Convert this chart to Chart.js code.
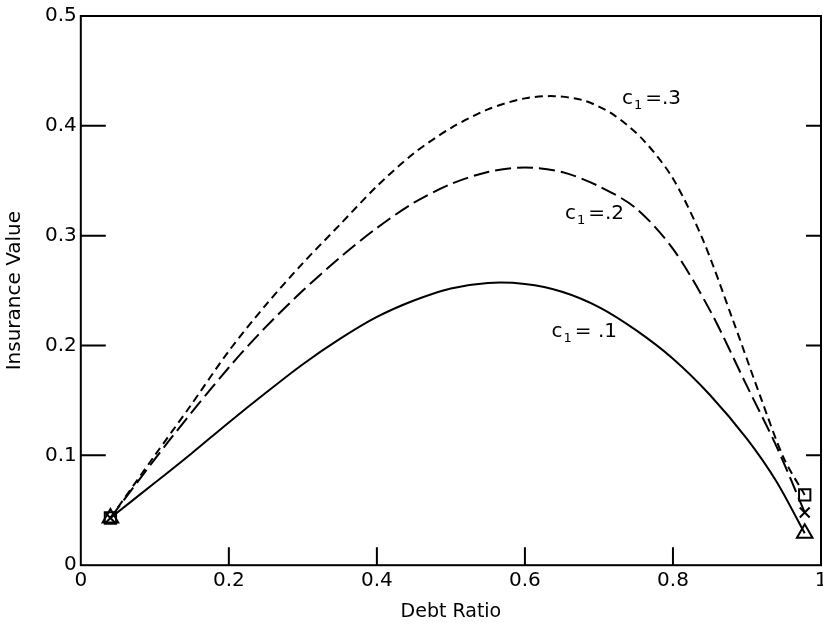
<!DOCTYPE html>
<html>
<head>
<meta charset="utf-8">
<script src="https://cdn.jsdelivr.net/npm/chart.js@4/dist/chart.umd.min.js"></script>
<style>
  html, body { margin: 0; padding: 0; background: #fff; overflow: hidden; }
  #wrap { width: 832px; height: 626px; }
</style>
</head>
<body>
<div id="wrap"><canvas id="c"></canvas></div>
<script>
// curves (c1 = .1, .2, .3)
const x1 = [0.04, 0.1, 0.15, 0.2, 0.25, 0.3, 0.35, 0.4, 0.45, 0.5, 0.55, 0.6, 0.65, 0.7, 0.75, 0.8, 0.85, 0.9, 0.94, 0.978];
const y1 = [0.043, 0.075, 0.102, 0.13, 0.157, 0.183, 0.206, 0.226, 0.241, 0.252, 0.257, 0.256, 0.249, 0.235, 0.214, 0.188, 0.155, 0.115, 0.076, 0.029];

const x2 = [0.04, 0.12, 0.2, 0.25, 0.3, 0.35, 0.4, 0.45, 0.5, 0.55, 0.6, 0.65, 0.7, 0.75, 0.8, 0.85, 0.9, 0.94, 0.978];
const y2 = [0.043, 0.114, 0.18, 0.217, 0.25, 0.28, 0.307, 0.33, 0.347, 0.358, 0.362, 0.358, 0.345, 0.325, 0.288, 0.232, 0.163, 0.108, 0.048];

const x3 = [0.04, 0.1, 0.147, 0.2, 0.25, 0.3, 0.35, 0.4, 0.45, 0.5, 0.55, 0.6, 0.64, 0.68, 0.72, 0.76, 0.8, 0.84, 0.88, 0.92, 0.95, 0.978];
const y3 = [0.043, 0.10, 0.144, 0.195, 0.237, 0.275, 0.31, 0.345, 0.375, 0.398, 0.415, 0.425, 0.427, 0.423, 0.41, 0.387, 0.352, 0.297, 0.225, 0.15, 0.097, 0.064];

// curve labels: [x, y, value text]
const curveLabels = [
  [0.731, 0.42, '=.3'],
  [0.654, 0.315, '=.2'],
  [0.636, 0.208, '= .1']
];

const xTicks = [0, 0.2, 0.4, 0.6, 0.8, 1];
const yTicks = [0, 0.1, 0.2, 0.3, 0.4, 0.5];

const FONT = '"DejaVu Sans", sans-serif';

function pts(xs, ys) {
  return xs.map((x, i) => ({ x: x, y: ys[i] }));
}
function ends(xs, ys) {
  const n = xs.length - 1;
  return [{ x: xs[0], y: ys[0] }, { x: xs[n], y: ys[n] }];
}

function curve(xs, ys, dash) {
  return {
    data: pts(xs, ys),
    showLine: true,
    borderColor: '#000',
    borderWidth: 2,
    borderDash: dash,
    pointRadius: 0,
    tension: 0.3,
    fill: false
  };
}
function marker(xs, ys, style, r) {
  return {
    data: ends(xs, ys),
    showLine: false,
    pointStyle: style,
    pointRadius: r,
    pointBorderColor: '#000',
    pointBackgroundColor: 'rgba(255,255,255,0)',
    pointBorderWidth: 2
  };
}

// frame, inward ticks, curve labels
const decor = {
  id: 'decor',
  beforeDraw(chart) {
    const ctx = chart.ctx;
    ctx.save();
    ctx.fillStyle = '#fff';
    ctx.fillRect(0, 0, chart.width, chart.height);
    ctx.restore();
  },
  afterDatasetsDraw(chart) {
    const ctx = chart.ctx;
    const a = chart.chartArea;
    const xs = chart.scales.x, ys = chart.scales.y;
    ctx.save();
    ctx.strokeStyle = '#000';
    ctx.lineWidth = 2;
    ctx.strokeRect(a.left, a.top, a.right - a.left, a.bottom - a.top);
    ctx.beginPath();
    yTicks.slice(1, -1).forEach(v => {
      const py = ys.getPixelForValue(v);
      ctx.moveTo(a.left, py); ctx.lineTo(a.left + 25, py);
      ctx.moveTo(a.right, py); ctx.lineTo(a.right - 15, py);
    });
    xTicks.slice(1, -1).forEach(v => {
      const px = xs.getPixelForValue(v);
      ctx.moveTo(px, a.bottom); ctx.lineTo(px, a.bottom - 18);
    });
    ctx.stroke();

    ctx.fillStyle = '#000';
    ctx.textBaseline = 'alphabetic';
    curveLabels.forEach(l => {
      let px = xs.getPixelForValue(l[0]);
      const py = ys.getPixelForValue(l[1]);
      ctx.font = '20px ' + FONT;
      ctx.fillText('c', px, py);
      px += ctx.measureText('c').width + 1;
      ctx.font = '13px ' + FONT;
      ctx.fillText('1', px, py + 5);
      px += ctx.measureText('1').width + 3;
      ctx.font = '20px ' + FONT;
      ctx.fillText(l[2], px, py);
    });
    ctx.restore();
  }
};

new Chart(document.getElementById('c'), {
  type: 'scatter',
  data: {
    datasets: [
      curve(x1, y1, []),
      curve(x2, y2, [16, 6]),
      curve(x3, y3, [8, 5]),
      marker(x3, y3, 'rect', 8),
      marker(x2, y2, 'crossRot', 7),
      marker(x1, y1, 'triangle', 9)
    ]
  },
  options: {
    responsive: true,
    maintainAspectRatio: false,
    animation: false,
    layout: { padding: { top: 15, right: 0, left: 0, bottom: 0 } },
    plugins: { legend: { display: false }, tooltip: { enabled: false } },
    scales: {
      x: {
        type: 'linear', min: 0, max: 1,
        afterBuildTicks: s => { s.ticks = xTicks.map(v => ({ value: v })); },
        grid: { display: false, drawTicks: false },
        border: { display: false },
        ticks: { color: '#000', font: { family: FONT, size: 20 }, padding: 4, maxRotation: 0, callback: v => String(v) },
        title: { display: true, text: 'Debt Ratio', color: '#000', font: { family: FONT, size: 19 }, padding: { top: 3, bottom: 3 } }
      },
      y: {
        type: 'linear', min: 0, max: 0.5,
        afterBuildTicks: s => { s.ticks = yTicks.map(v => ({ value: v })); },
        grid: { display: false, drawTicks: false },
        border: { display: false },
        ticks: { color: '#000', font: { family: FONT, size: 20 }, padding: 4, callback: v => String(v) },
        title: { display: true, text: 'Insurance Value', color: '#000', font: { family: FONT, size: 20 }, padding: { top: 3, bottom: 14 } }
      }
    }
  },
  plugins: [decor]
});
</script>
</body>
</html>
